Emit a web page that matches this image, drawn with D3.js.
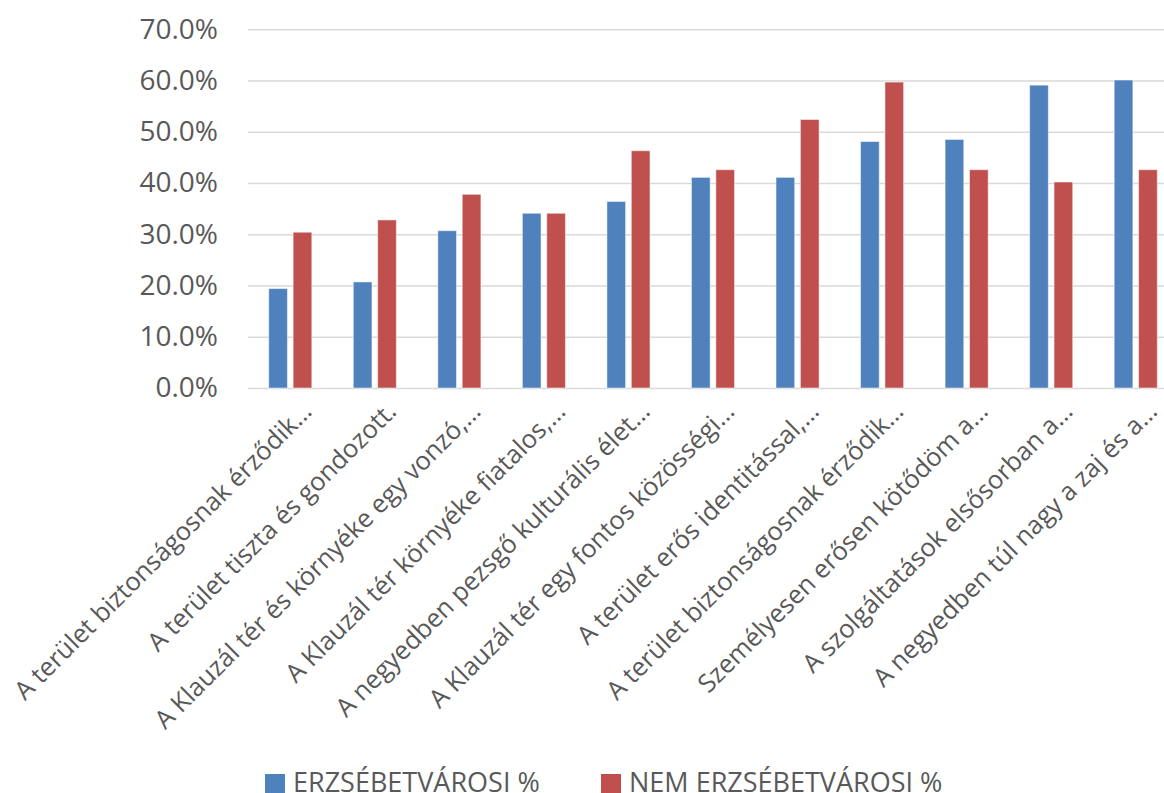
<!DOCTYPE html>
<html>
<head>
<meta charset="utf-8">
<script src="https://cdn.jsdelivr.net/npm/d3@7"></script>
<style>
  html, body { margin: 0; padding: 0; background: #fff; }
  svg { display: block; }
  text { font-family: "Open Sans", "DejaVu Sans", sans-serif; fill: #595959; }
</style>
</head>
<body>
<svg id="chart" width="1164" height="793"></svg>
<script>
const categories = [
  "A terület biztonságosnak érződik…",
  "A terület tiszta és gondozott.",
  "A Klauzál tér és környéke egy vonzó,…",
  "A Klauzál tér környéke fiatalos,…",
  "A negyedben pezsgő kulturális élet…",
  "A Klauzál tér egy fontos közösségi…",
  "A terület erős identitással,…",
  "A terület biztonságosnak érződik…",
  "Személyesen erősen kötődöm a…",
  "A szolgáltatások elsősorban a…",
  "A negyedben túl nagy a zaj és a…"
];
const seriesNames = ["ERZSÉBETVÁROSI %", "NEM ERZSÉBETVÁROSI %"];
const erzsebetvarosi = [0.194, 0.207, 0.307, 0.341, 0.364, 0.411, 0.411, 0.481, 0.485, 0.591, 0.601];
const nemErzsebetvarosi = [0.304, 0.328, 0.378, 0.341, 0.463, 0.426, 0.524, 0.597, 0.426, 0.402, 0.426];
const yTicks = [0, 0.1, 0.2, 0.3, 0.4, 0.5, 0.6, 0.7];
const colors = ["#4F81BD", "#C0504D"];

const rows = categories.map((c, i) => ({ cat: i, values: [erzsebetvarosi[i], nemErzsebetvarosi[i]] }));

const svg = d3.select("#chart");
const mLeft = 248, mRight = 1178, mTop = 29.3, mBottom = 388;

const x0 = d3.scaleBand().domain(d3.range(categories.length)).range([mLeft, mRight]).padding(0);
const x1 = d3.scaleBand().domain([0, 1]).range([0, x0.bandwidth()]).paddingInner(0.234).paddingOuter(0.85);
const y = d3.scaleLinear().domain([0, 0.7]).range([mBottom, mTop]);

// gridlines
const yAxis = d3.axisLeft(y).tickValues(yTicks).tickFormat(d3.format(".1%")).tickSize(-(mRight - mLeft)).tickPadding(30);
const gy = svg.append("g").attr("transform", `translate(${mLeft},0)`).call(yAxis);
gy.select(".domain").remove();
gy.selectAll(".tick line").attr("stroke", "#D9D9D9").attr("stroke-width", 1.5);
gy.selectAll(".tick text").attr("font-size", 28).attr("fill", "#595959")
  .style("font-family", '"Open Sans", sans-serif');

// bars
const groups = svg.append("g").selectAll("g").data(rows).join("g")
  .attr("transform", d => `translate(${x0(d.cat)},0)`);
groups.selectAll("rect").data(d => d.values.map((v, k) => ({ v, k }))).join("rect")
  .attr("x", d => x1(d.k))
  .attr("width", x1.bandwidth())
  .attr("y", d => y(d.v))
  .attr("height", d => y(0) - y(d.v))
  .attr("fill", d => colors[d.k])
  .attr("stroke", "#ffffff").attr("stroke-opacity", 0.5).attr("stroke-width", 1);

// x labels
const xAxis = d3.axisBottom(x0).tickFormat(i => categories[i]).tickSize(0);
const gx = svg.append("g").attr("transform", `translate(0,${mBottom})`).call(xAxis);
gx.select(".domain").remove();
gx.selectAll(".tick text")
  .attr("font-size", 25.5)
  .attr("fill", "#595959")
  .style("font-family", '"Open Sans", sans-serif')
  .attr("text-anchor", "end")
  .attr("dy", null).attr("y", null)
  .attr("transform", "translate(23,25) rotate(-45)");

// legend
const legendItems = [{ x: 265, k: 0 }, { x: 601, k: 1 }];
const lg = svg.append("g");
legendItems.forEach(it => {
  lg.append("rect").attr("x", it.x).attr("y", 774).attr("width", 20).attr("height", 20).attr("fill", colors[it.k]);
  lg.append("text").attr("x", it.x + 28).attr("y", 792).attr("font-size", 27).text(seriesNames[it.k]);
});
</script>
</body>
</html>
